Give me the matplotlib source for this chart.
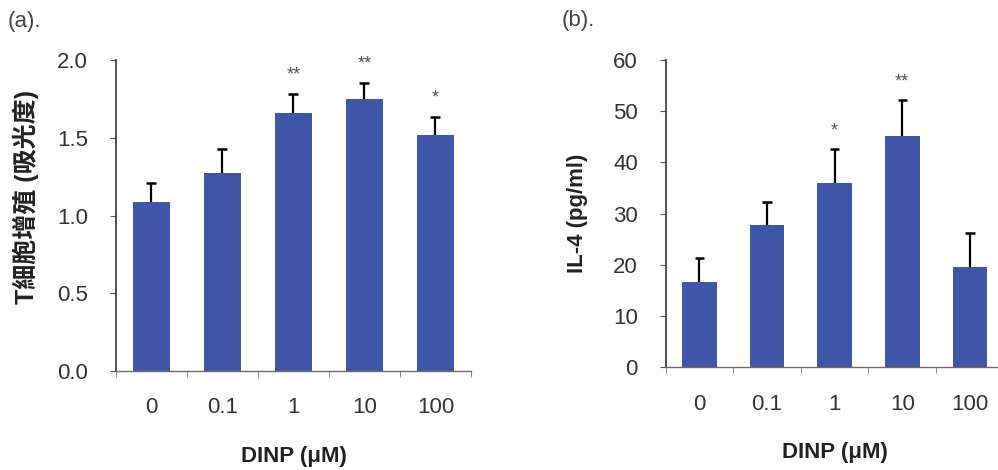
import numpy as np
import matplotlib.pyplot as plt

# DINP concentrations
doses = ['0', '0.1', '1', '10', '100']

# (a) T cell proliferation (absorbance)
prolif = [1.09, 1.275, 1.657, 1.751, 1.52]
prolif_err = [0.116, 0.155, 0.126, 0.103, 0.115]
prolif_sig = ['', '', '**', '**', '*']

# (b) IL-4 (pg/ml)
il4 = [16.7, 27.7, 35.9, 45.2, 19.5]
il4_err = [4.6, 4.6, 6.7, 7.0, 6.8]
il4_sig = ['', '', '*', '**', '']

bar_color = '#3F57A6'
text_color = '#333333'
fs = 16
latin = 'Liberation Sans'
cjk = ['Liberation Sans', 'Noto Sans CJK TC', 'DejaVu Sans']

plt.rcParams['font.family'] = cjk


def draw_panel(ax, vals, errs, sig, ylim, yticks, fmt):
    x = np.arange(len(doses))
    vals = np.array(vals)
    tops = vals + np.array(errs)
    ax.bar(x, vals, width=0.51, color=bar_color, zorder=2)
    # upper error bars only
    ax.vlines(x, vals, tops, color='black', linewidth=1.6, zorder=3)
    ax.hlines(tops, x - 0.07, x + 0.07, color='black', linewidth=1.8, zorder=3)
    for xi, t, s in zip(x, tops, sig):
        if s:
            ax.annotate(s, (xi, t), xytext=(0, 10), textcoords='offset points',
                        ha='center', va='baseline', fontsize=13, color='#555555')
    ax.set_xlim(-0.5, len(doses) - 0.5)
    ax.set_ylim(*ylim)
    ax.set_yticks(yticks)
    ax.set_yticklabels([fmt.format(t) for t in yticks])
    ax.set_xticks(x)
    ax.set_xticklabels(doses)
    ax.set_xticks(np.arange(len(doses) + 1) - 0.5, minor=True)
    ax.tick_params(axis='x', which='major', length=0, pad=19, labelsize=fs, labelcolor=text_color)
    ax.tick_params(axis='x', which='minor', length=4, direction='out', color='#777777')
    ax.tick_params(axis='y', length=4, direction='out', pad=16, labelsize=fs,
                   labelcolor=text_color, color='#555555')
    for side in ['top', 'right']:
        ax.spines[side].set_visible(False)
    ax.spines['left'].set_color('#333333')
    ax.spines['left'].set_linewidth(1.2)
    ax.spines['bottom'].set_color('#776666')
    ax.spines['bottom'].set_linewidth(1.0)
    for lab in ax.get_xticklabels() + ax.get_yticklabels():
        lab.set_family(latin)


fig = plt.figure(figsize=(9.98, 4.70), dpi=100)
ax1 = fig.add_axes([0.1162, 0.2106, 0.3557, 0.6617])
ax2 = fig.add_axes([0.667, 0.2185, 0.3387, 0.6538])

draw_panel(ax1, prolif, prolif_err, prolif_sig, (0, 2.0), [0.0, 0.5, 1.0, 1.5, 2.0], '{:.1f}')
draw_panel(ax2, il4, il4_err, il4_sig, (0, 60), [0, 10, 20, 30, 40, 50, 60], '{:.0f}')

ax1.set_xlabel('DINP (μM)', fontsize=fs, fontweight='bold', family=latin, color='#222222', labelpad=20)
ax2.set_xlabel('DINP (μM)', fontsize=fs, fontweight='bold', family=latin, color='#222222', labelpad=20)

fig.text(0.026, 0.58, 'T細胞增殖 (吸光度)', rotation=90, ha='center', va='center',
         fontsize=18, fontweight='bold', color='#222222', family=cjk)
fig.text(0.5785, 0.547, 'IL-4 (pg/ml)', rotation=90, ha='center', va='center',
         fontsize=fs, fontweight='bold', color='#222222', family=latin)

fig.text(0.008, 0.955, '(a).', ha='left', va='center', fontsize=fs, color='#444444', family=latin)
fig.text(0.563, 0.957, '(b).', ha='left', va='center', fontsize=fs, color='#444444', family=latin)

fig.savefig('out.png', dpi=100)
